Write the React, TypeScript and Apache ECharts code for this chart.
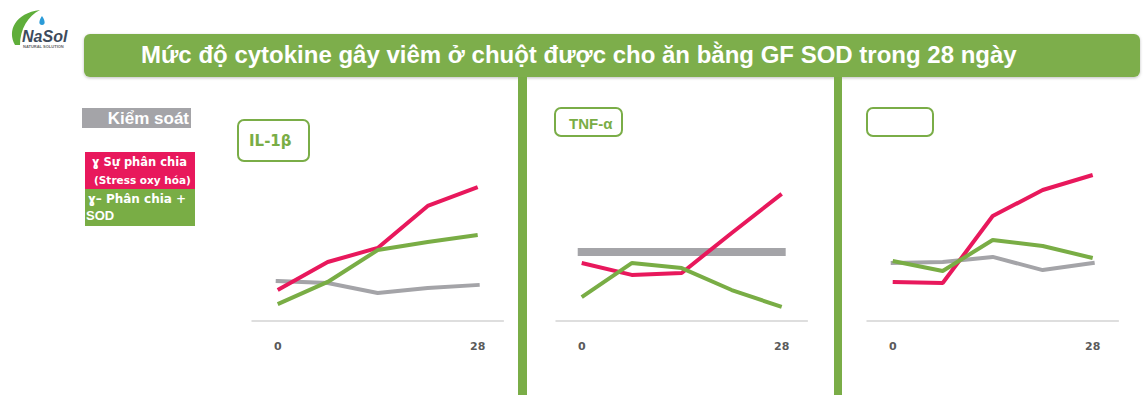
import React, { useEffect, useRef } from "react";
import * as echarts from "echarts";

const DAYS = [0, 7, 14, 21, 28];
const X_LABELS = [0, 28];

const IL1B_CONTROL = [22.2, 21.1, 15.6, 18.3, 20.0];
const IL1B_STRESS = [17.2, 32.8, 40.6, 63.9, 74.4];
const IL1B_SOD = [9.4, 21.7, 39.4, 43.9, 47.8];

const TNF_CONTROL = [38.3, 38.3, 38.3, 38.3, 38.3];
const TNF_STRESS = [32.2, 25.6, 26.7, 48.9, 70.6];
const TNF_SOD = [13.3, 32.2, 29.4, 17.2, 7.8];

const P3_CONTROL = [32.2, 32.8, 35.6, 28.3, 32.2];
const P3_STRESS = [21.7, 21.1, 58.3, 72.8, 81.1];
const P3_SOD = [33.3, 27.8, 45.0, 41.7, 35.0];

const PANELS = [
  { control: IL1B_CONTROL, stress: IL1B_STRESS, sod: IL1B_SOD, controlWidth: 4 },
  { control: TNF_CONTROL, stress: TNF_STRESS, sod: TNF_SOD, controlWidth: 8 },
  { control: P3_CONTROL, stress: P3_STRESS, sod: P3_SOD, controlWidth: 4 },
];

const TITLE = "Mức độ cytokine gây viêm ở chuột được cho ăn bằng GF SOD trong 28 ngày";
const LEGEND_CONTROL = "Kiểm soát";
const LEGEND_STRESS = ["ɣ Sự phân chia", "(Stress oxy hóa)"];
const LEGEND_SOD = ["ɣ– Phân chia +", "SOD"];
const PANEL_LABELS = ["IL-1β", "TNF-α", ""];

const GREEN = "#79ad45";
const RED = "#e8185c";
const GRAY = "#a4a4a8";

const GRID_LEFTS = [252, 556, 867];

echarts.graphic.registerShape(
  "nasolLeaf",
  echarts.graphic.extendPath("M15,45 C7,31 15,13 40,10 C28,16 20,29 20,45 Z", {})
);
echarts.graphic.registerShape(
  "nasolDrop",
  echarts.graphic.extendPath("M42,16 C38.5,21 38.5,25 42,25 C45.5,25 45.5,21 42,16 Z", {})
);

export default function App() {
  const ref = useRef<HTMLDivElement>(null);
  useEffect(() => {
    if (!ref.current) return;
    const chart = echarts.init(ref.current, null, { renderer: "svg" });
    const toData = (arr: number[]) => DAYS.map((d, i) => [d, arr[i]]);

    const grids = GRID_LEFTS.map((left) => ({ left, width: 251.4, top: 141, height: 180 }));
    const xAxes = GRID_LEFTS.map((_, i) => ({
      type: "value",
      gridIndex: i,
      min: -3.6,
      max: 31.6,
      splitLine: { show: false },
      axisTick: { show: false },
      axisLine: { show: true, lineStyle: { color: "#d4d4d4", width: 1.5 } },
      axisLabel: {
        customValues: X_LABELS,
        color: "#5a5a5a",
        fontWeight: "bold",
        fontSize: 11,
        fontFamily: "DejaVu Sans",
        margin: 20,
      },
    }));
    const yAxes = GRID_LEFTS.map((_, i) => ({
      type: "value",
      gridIndex: i,
      min: 0,
      max: 100,
      show: false,
    }));
    const series: any[] = [];
    PANELS.forEach((p, i) => {
      series.push({
        type: "line",
        xAxisIndex: i,
        yAxisIndex: i,
        data: toData(p.control),
        showSymbol: false,
        lineStyle: { color: GRAY, width: p.controlWidth, cap: "square" },
      });
      series.push({
        type: "line",
        xAxisIndex: i,
        yAxisIndex: i,
        data: toData(p.stress),
        showSymbol: false,
        lineStyle: { color: RED, width: 4 },
      });
      series.push({
        type: "line",
        xAxisIndex: i,
        yAxisIndex: i,
        data: toData(p.sod),
        showSymbol: false,
        lineStyle: { color: GREEN, width: 4 },
      });
    });

    const boxes = [
      { x: 238, y: 120, w: 71, h: 41, tx: 249, ty: 141, font: 'bold 15px "DejaVu Sans"' },
      { x: 555, y: 108, w: 67, h: 28, tx: 569, ty: 123, font: 'bold 15px "Liberation Sans"' },
      { x: 867, y: 108, w: 66, h: 28, tx: 880, ty: 123, font: 'bold 15px "Liberation Sans"' },
    ];

    const graphic: any[] = [
      // logo
      { type: "nasolLeaf", x: 0, y: 0, style: { fill: "#5fae3a" } },
      { type: "nasolDrop", x: 0, y: 0, style: { fill: "#2b9bd8" } },
      {
        type: "text",
        x: 22,
        y: 36,
        style: {
          text: "NaSol",
          fill: "#3d4b5c",
          font: 'italic bold 16px "Liberation Sans"',
          textVerticalAlign: "middle",
        },
      },
      {
        type: "text",
        x: 23,
        y: 46,
        style: {
          text: "NATURAL SOLUTION",
          fill: "#666",
          font: 'bold 4px "Liberation Sans"',
          textVerticalAlign: "middle",
        },
      },
      // banner
      {
        type: "rect",
        shape: { x: 84, y: 34, width: 1056, height: 43, r: 6 },
        style: { fill: "#7dae4b", shadowBlur: 3, shadowColor: "rgba(0,0,0,0.25)", shadowOffsetY: 1 },
      },
      {
        type: "text",
        x: 141,
        y: 54,
        style: {
          text: TITLE,
          fill: "#ffffff",
          font: 'bold 24px "Liberation Sans"',
          textVerticalAlign: "middle",
        },
      },
      // dividers
      { type: "rect", shape: { x: 518, y: 77, width: 9, height: 318 }, style: { fill: "#7aad47" } },
      { type: "rect", shape: { x: 834, y: 77, width: 8, height: 318 }, style: { fill: "#7aad47" } },
      // legend
      { type: "rect", shape: { x: 82, y: 108, width: 109, height: 20 }, style: { fill: "#a4a4a8" } },
      {
        type: "text",
        x: 189,
        y: 118,
        style: {
          text: LEGEND_CONTROL,
          fill: "#fff",
          font: 'bold 17px "Liberation Sans"',
          textAlign: "right",
          textVerticalAlign: "middle",
        },
      },
      { type: "rect", shape: { x: 85, y: 152, width: 110, height: 37 }, style: { fill: "#e8185c" } },
      {
        type: "text",
        x: 92,
        y: 162,
        style: { text: LEGEND_STRESS[0], fill: "#fff", font: 'bold 11.5px "DejaVu Sans"', textVerticalAlign: "middle" },
      },
      {
        type: "text",
        x: 94,
        y: 180,
        style: { text: LEGEND_STRESS[1], fill: "#fff", font: 'bold 10.5px "DejaVu Sans"', textVerticalAlign: "middle" },
      },
      { type: "rect", shape: { x: 85, y: 189, width: 110, height: 37 }, style: { fill: "#79ad45" } },
      {
        type: "text",
        x: 88,
        y: 199,
        style: { text: LEGEND_SOD[0], fill: "#fff", font: 'bold 12px "DejaVu Sans"', textVerticalAlign: "middle" },
      },
      {
        type: "text",
        x: 86,
        y: 215,
        style: { text: LEGEND_SOD[1], fill: "#fff", font: 'bold 13px "Liberation Sans"', textVerticalAlign: "middle" },
      },
    ];
    boxes.forEach((b, i) => {
      graphic.push({
        type: "rect",
        shape: { x: b.x, y: b.y, width: b.w, height: b.h, r: 6 },
        style: { fill: "#fff", stroke: "#7aad47", lineWidth: 2 },
      });
      if (PANEL_LABELS[i]) {
        graphic.push({
          type: "text",
          x: b.tx,
          y: b.ty,
          style: { text: PANEL_LABELS[i], fill: "#79ad45", font: b.font, textVerticalAlign: "middle" },
        });
      }
    });

    chart.setOption({
      animation: false,
      backgroundColor: "#ffffff",
      grid: grids,
      xAxis: xAxes,
      yAxis: yAxes,
      series,
      graphic,
    });
    return () => chart.dispose();
  }, []);
  return (
    <div
      ref={ref}
      style={{ position: "absolute", left: 0, top: 0, width: 1148, height: 400 }}
    />
  );
}
